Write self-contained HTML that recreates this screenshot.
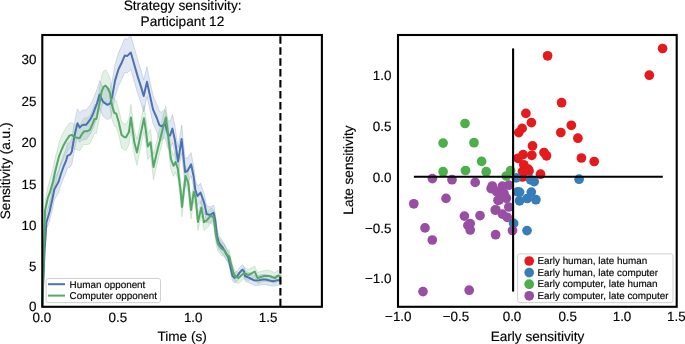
<!DOCTYPE html>
<html><head><meta charset="utf-8"><style>
html,body{margin:0;padding:0;background:#fff;width:685px;height:344px;overflow:hidden}
svg{display:block;will-change:transform}
text{font-family:"Liberation Sans", sans-serif;fill:#000;stroke:#000;stroke-width:0.15px;text-rendering:geometricPrecision}
</style></head><body>
<svg width="685" height="344" viewBox="0 0 685 344">
<polygon points="42.3,306.5 44.6,245.0 45.7,228.0 46.4,215.8 49.5,202.5 52.2,189.8 54.4,178.8 56.5,174.9 58.7,170.4 60.9,162.8 63.8,154.4 66.0,148.9 67.4,143.6 70.3,141.7 71.8,138.5 73.9,125.7 75.3,118.2 77.5,108.9 79.7,112.7 81.9,110.5 84.1,109.9 86.3,110.0 88.4,107.2 90.6,104.4 92.8,100.1 95.0,94.5 97.2,88.8 99.6,80.6 103.1,87.6 107.4,90.1 110.3,88.2 112.5,79.5 115.1,64.4 118.6,52.3 121.2,46.8 124.7,38.6 127.3,38.9 130.8,35.5 134.3,47.7 137.8,59.9 141.2,70.8 143.7,80.1 147.0,66.8 149.6,79.9 153.1,95.7 156.6,103.5 159.5,111.4 161.8,112.2 164.9,109.6 168.0,120.6 170.1,121.5 172.4,114.6 174.8,125.5 178.1,147.6 181.6,125.0 185.1,158.0 187.5,158.0 191.1,152.7 193.8,166.9 195.3,179.9 197.5,186.3 200.5,183.3 203.1,190.7 204.9,196.9 206.6,205.5 210.1,207.0 213.6,205.2 215.3,213.3 217.0,228.5 218.8,235.7 222.3,240.8 225.3,246.3 228.3,252.2 230.4,261.7 232.4,270.8 234.4,272.9 237.5,270.8 239.5,267.8 242.3,264.7 243.8,266.1 245.2,271.2 248.1,272.3 251.5,274.0 254.7,275.6 259.1,275.2 262.5,274.5 265.7,274.5 269.5,275.5 273.0,276.3 275.8,275.6 278.8,275.2 281.0,275.2 281.0,285.2 278.8,285.2 275.8,285.6 273.0,286.3 269.5,285.5 265.7,284.5 262.5,284.5 259.1,285.2 254.7,285.6 251.5,284.0 248.1,282.3 245.2,281.2 243.8,276.1 242.3,274.7 239.5,277.8 237.5,280.8 234.4,282.9 232.4,280.8 230.4,271.7 228.3,262.8 225.3,257.7 222.3,253.2 218.8,249.1 217.0,242.3 215.3,227.7 213.6,220.2 210.1,223.0 206.6,222.5 204.9,214.3 203.1,208.5 200.5,201.9 197.5,205.7 195.3,199.9 193.8,187.9 191.1,175.9 187.5,184.0 185.1,186.0 181.6,153.0 178.1,175.6 174.8,153.5 172.4,142.6 170.1,149.5 168.0,148.6 164.9,137.6 161.8,140.2 159.5,139.4 156.6,131.5 153.1,123.7 149.6,108.1 147.0,96.6 143.7,111.9 141.2,104.0 137.8,93.9 134.3,81.7 130.8,69.5 127.3,72.9 124.7,72.6 121.2,80.8 118.6,85.7 115.1,96.4 112.5,110.5 110.3,118.4 107.4,119.5 103.1,116.2 99.6,108.6 97.2,117.0 95.0,123.0 92.8,128.9 90.6,133.4 88.4,136.4 86.3,139.4 84.1,139.5 81.9,140.3 79.7,142.5 77.5,137.7 75.3,145.8 73.9,152.7 71.8,164.5 70.3,167.1 67.4,168.0 66.0,172.9 63.8,177.6 60.9,185.2 58.7,192.2 56.5,196.2 54.4,199.6 52.2,210.2 49.5,221.5 46.4,229.2 45.7,240.0 44.6,255.0 42.3,306.5" fill="#4c72b0" fill-opacity="0.17" stroke="#4c72b0" stroke-opacity="0.22" stroke-width="1"/>
<polygon points="42.3,306.5 45.0,203.0 47.8,187.2 50.0,179.2 52.9,168.7 55.1,158.3 57.3,149.4 59.2,141.9 61.5,136.2 63.7,131.6 66.6,126.9 69.5,122.9 71.7,122.5 74.6,125.0 77.5,125.5 79.7,125.5 81.9,121.4 84.1,118.2 87.0,117.9 89.9,116.0 92.8,109.2 94.5,104.6 96.4,104.3 97.9,96.9 99.3,89.5 101.6,76.4 103.5,71.3 105.5,69.8 108.0,73.4 110.0,78.5 111.8,90.8 114.4,99.9 116.2,100.5 118.7,109.0 121.6,122.0 124.5,124.2 126.0,124.2 128.9,119.0 130.9,104.5 134.4,129.8 137.0,139.4 140.5,121.9 144.0,105.3 145.8,117.0 147.8,133.5 150.5,129.2 153.5,154.3 157.0,139.7 160.5,126.0 163.1,115.8 165.8,106.0 167.7,119.8 169.2,133.9 170.9,148.1 173.6,155.2 175.5,151.6 177.9,158.8 180.5,180.0 182.0,197.2 185.5,166.4 188.3,173.7 191.0,200.9 193.8,183.1 195.5,188.2 198.0,213.4 201.3,199.2 204.0,214.2 207.5,211.9 210.9,207.7 213.6,210.5 216.2,229.8 217.9,237.0 221.4,241.7 224.5,244.0 226.3,248.2 229.3,250.7 231.4,260.0 233.4,267.3 235.5,271.3 238.5,272.4 241.6,269.7 244.5,267.5 248.1,269.6 251.3,268.0 254.7,266.0 257.6,272.6 260.8,271.5 264.2,270.4 269.3,270.4 272.0,271.5 274.8,272.6 278.1,270.0 281.0,271.5 281.0,282.5 278.1,281.0 274.8,283.6 272.0,282.5 269.3,281.4 264.2,281.4 260.8,282.5 257.6,283.6 254.7,277.0 251.3,279.0 248.1,280.6 244.5,278.5 241.6,280.7 238.5,283.4 235.5,282.3 233.4,278.3 231.4,271.2 229.3,262.3 226.3,260.6 224.5,256.8 221.4,255.3 217.9,251.2 216.2,244.4 213.6,225.3 210.9,222.9 207.5,227.5 204.0,230.4 201.3,215.8 198.0,230.6 195.5,205.8 193.8,200.9 191.0,219.1 188.3,192.3 185.5,185.6 182.0,216.8 180.5,200.0 177.9,179.2 175.5,172.4 173.6,176.4 170.9,169.9 169.2,156.1 167.7,142.2 165.8,128.8 163.1,139.2 160.5,149.8 157.0,164.3 153.5,179.7 150.5,155.1 147.8,159.5 145.8,143.0 144.0,131.3 140.5,147.9 137.0,165.4 134.4,155.8 130.9,130.5 128.9,145.0 126.0,150.2 124.5,150.2 121.6,148.0 118.7,135.0 116.2,126.5 114.4,126.3 111.8,118.8 110.0,107.5 108.0,103.6 105.5,101.4 103.5,102.7 101.6,107.0 99.3,119.3 97.9,126.3 96.4,133.5 94.5,133.2 92.8,137.4 89.9,143.6 87.0,144.7 84.1,144.4 81.9,147.0 79.7,150.7 77.5,150.1 74.6,149.2 71.7,147.3 69.5,148.3 66.6,153.1 63.7,158.6 61.5,163.8 59.2,169.7 57.3,176.8 55.1,185.3 52.9,195.3 50.0,205.2 47.8,208.8 45.0,219.0 42.3,306.5" fill="#55a868" fill-opacity="0.17" stroke="#55a868" stroke-opacity="0.22" stroke-width="1"/>
<polyline points="42.3,306.5 44.6,250.0 45.7,234.0 46.4,222.5 49.5,212.0 52.2,200.0 54.4,189.2 56.5,185.6 58.7,181.3 60.9,174.0 63.8,166.0 66.0,160.9 67.4,155.8 70.3,154.4 71.8,151.5 73.9,139.2 75.3,132.0 77.5,123.3 79.7,127.6 81.9,125.4 84.1,124.7 86.3,124.7 88.4,121.8 90.6,118.9 92.8,114.5 95.0,108.7 97.2,102.9 99.6,94.6 103.1,101.9 107.4,104.8 110.3,103.3 112.5,95.0 115.1,80.4 118.6,69.0 121.2,63.8 124.7,55.6 127.3,55.9 130.8,52.5 134.3,64.7 137.8,76.9 141.2,87.4 143.7,96.0 147.0,81.7 149.6,94.0 153.1,109.7 156.6,117.5 159.5,125.4 161.8,126.2 164.9,123.6 168.0,134.6 170.1,135.5 172.4,128.6 174.8,139.5 178.1,161.6 181.6,139.0 185.1,172.0 187.5,171.0 191.1,164.3 193.8,177.4 195.3,189.9 197.5,196.0 200.5,192.6 203.1,199.6 204.9,205.6 206.6,214.0 210.1,215.0 213.6,212.7 215.3,220.5 217.0,235.4 218.8,242.4 222.3,247.0 225.3,252.0 228.3,257.5 230.4,266.7 232.4,275.8 234.4,277.9 237.5,275.8 239.5,272.8 242.3,269.7 243.8,271.1 245.2,276.2 248.1,277.3 251.5,279.0 254.7,280.6 259.1,280.2 262.5,279.5 265.7,279.5 269.5,280.5 273.0,281.3 275.8,280.6 278.8,280.2 281.0,280.2" fill="none" stroke="#4c72b0" stroke-width="2" stroke-linejoin="round"/>
<polyline points="42.3,306.5 45.0,211.0 47.8,198.0 50.0,192.2 52.9,182.0 55.1,171.8 57.3,163.1 59.2,155.8 61.5,150.0 63.7,145.1 66.6,140.0 69.5,135.6 71.7,134.9 74.6,137.1 77.5,137.8 79.7,138.1 81.9,134.2 84.1,131.3 87.0,131.3 89.9,129.8 92.8,123.3 94.5,118.9 96.4,118.9 97.9,111.6 99.3,104.4 101.6,91.7 103.5,87.0 105.5,85.6 108.0,88.5 110.0,93.0 111.8,104.8 114.4,113.1 116.2,113.5 118.7,122.0 121.6,135.0 124.5,137.2 126.0,137.2 128.9,132.0 130.9,117.5 134.4,142.8 137.0,152.4 140.5,134.9 144.0,118.3 145.8,130.0 147.8,146.5 150.5,142.2 153.5,167.0 157.0,152.0 160.5,137.9 163.1,127.5 165.8,117.4 167.7,131.0 169.2,145.0 170.9,159.0 173.6,165.8 175.5,162.0 177.9,169.0 180.5,190.0 182.0,207.0 185.5,176.0 188.3,183.0 191.0,210.0 193.8,192.0 195.5,197.0 198.0,222.0 201.3,207.5 204.0,222.3 207.5,219.7 210.9,215.3 213.6,217.9 216.2,237.1 217.9,244.1 221.4,248.5 224.5,250.4 226.3,254.4 229.3,256.5 231.4,265.6 233.4,272.8 235.5,276.8 238.5,277.9 241.6,275.2 244.5,273.0 248.1,275.1 251.3,273.5 254.7,271.5 257.6,278.1 260.8,277.0 264.2,275.9 269.3,275.9 272.0,277.0 274.8,278.1 278.1,275.5 281.0,277.0" fill="none" stroke="#55a868" stroke-width="2" stroke-linejoin="round"/>
<line x1="280.4" y1="36.3" x2="280.4" y2="306.8" stroke="#000" stroke-width="2.1" stroke-dasharray="7.5 3.44"/>
<rect x="46.1" y="278.5" width="114.4" height="24.1" rx="2" ry="2" fill="#fff" fill-opacity="0.8" stroke="#cccccc" stroke-width="0.9"/>
<line x1="48" y1="284.2" x2="65" y2="284.2" stroke="#4c72b0" stroke-width="2"/>
<line x1="48" y1="295.6" x2="65" y2="295.6" stroke="#55a868" stroke-width="2"/>
<text x="69.6" y="287.7" font-size="9.9" text-anchor="start" >Human opponent</text>
<text x="69.6" y="299.1" font-size="9.9" text-anchor="start" >Computer opponent</text>
<rect x="42.3" y="35" width="279.6" height="271.8" fill="none" stroke="#000" stroke-width="2.1"/>
<text x="36.4" y="311.0972" font-size="13.4" text-anchor="end" >0</text>
<text x="36.4" y="270.5972" font-size="13.4" text-anchor="end" >5</text>
<text x="36.4" y="229.59720000000002" font-size="13.4" text-anchor="end" >10</text>
<text x="36.4" y="188.6972" font-size="13.4" text-anchor="end" >15</text>
<text x="36.4" y="147.1972" font-size="13.4" text-anchor="end" >20</text>
<text x="36.4" y="105.7972" font-size="13.4" text-anchor="end" >25</text>
<text x="36.4" y="64.4972" font-size="13.4" text-anchor="end" >30</text>
<text x="41.9" y="321.6" font-size="13.4" text-anchor="middle" >0.0</text>
<text x="117.9" y="321.6" font-size="13.4" text-anchor="middle" >0.5</text>
<text x="193.2" y="321.6" font-size="13.4" text-anchor="middle" >1.0</text>
<text x="268.1" y="321.6" font-size="13.4" text-anchor="middle" >1.5</text>
<text x="182.1" y="340.6" font-size="13.6" text-anchor="middle" >Time (s)</text>
<text x="182.6" y="9.8" font-size="13.7" text-anchor="middle" >Strategy sensitivity:</text>
<text x="182.4" y="25.6" font-size="13.7" text-anchor="middle" >Participant 12</text>
<text x="0" y="0" font-size="13.6" text-anchor="middle" transform="translate(10.1,170.9) rotate(-90)">Sensitivity (a.u.)</text>
<circle cx="547.6" cy="55.8" r="4.85" fill="#e41a1c"/><circle cx="662.6" cy="48.5" r="4.85" fill="#e41a1c"/><circle cx="649.3" cy="75.2" r="4.85" fill="#e41a1c"/><circle cx="561.6" cy="102.7" r="4.85" fill="#e41a1c"/><circle cx="525.9" cy="113.4" r="4.85" fill="#e41a1c"/><circle cx="531.4" cy="122.6" r="4.85" fill="#e41a1c"/><circle cx="522.1" cy="128.4" r="4.85" fill="#e41a1c"/><circle cx="518.8" cy="132.6" r="4.85" fill="#e41a1c"/><circle cx="571.3" cy="125.3" r="4.85" fill="#e41a1c"/><circle cx="560.8" cy="132.5" r="4.85" fill="#e41a1c"/><circle cx="577.9" cy="138.2" r="4.85" fill="#e41a1c"/><circle cx="532.5" cy="145.9" r="4.85" fill="#e41a1c"/><circle cx="544" cy="152.5" r="4.85" fill="#e41a1c"/><circle cx="546.5" cy="155.8" r="4.85" fill="#e41a1c"/><circle cx="581.4" cy="158" r="4.85" fill="#e41a1c"/><circle cx="594.2" cy="161.5" r="4.85" fill="#e41a1c"/><circle cx="523.1" cy="154.6" r="4.85" fill="#e41a1c"/><circle cx="518" cy="158.3" r="4.85" fill="#e41a1c"/><circle cx="531.8" cy="155.3" r="4.85" fill="#e41a1c"/><circle cx="523.8" cy="164.8" r="4.85" fill="#e41a1c"/><circle cx="528.2" cy="169.2" r="4.85" fill="#e41a1c"/><circle cx="522.5" cy="171.5" r="4.85" fill="#e41a1c"/><circle cx="540.5" cy="174.2" r="4.85" fill="#e41a1c"/><circle cx="529" cy="171" r="4.85" fill="#e41a1c"/><circle cx="522.5" cy="177" r="4.85" fill="#e41a1c"/>
<circle cx="516.2" cy="177.8" r="4.85" fill="#377eb8"/><circle cx="530.7" cy="179.9" r="4.85" fill="#377eb8"/><circle cx="534.2" cy="181.6" r="4.85" fill="#377eb8"/><circle cx="579.1" cy="179.2" r="4.85" fill="#377eb8"/><circle cx="519.6" cy="192.1" r="4.85" fill="#377eb8"/><circle cx="531.3" cy="192.1" r="4.85" fill="#377eb8"/><circle cx="519.6" cy="200.8" r="4.85" fill="#377eb8"/><circle cx="527.2" cy="198.5" r="4.85" fill="#377eb8"/><circle cx="535.9" cy="199.7" r="4.85" fill="#377eb8"/><circle cx="517.6" cy="191.9" r="4.85" fill="#377eb8"/><circle cx="513.6" cy="223.4" r="4.85" fill="#377eb8"/><circle cx="527" cy="230.6" r="4.85" fill="#377eb8"/>
<circle cx="465" cy="123.5" r="4.85" fill="#4daf4a"/><circle cx="443.1" cy="143.1" r="4.85" fill="#4daf4a"/><circle cx="474" cy="142.7" r="4.85" fill="#4daf4a"/><circle cx="481.6" cy="161.4" r="4.85" fill="#4daf4a"/><circle cx="443.1" cy="171.7" r="4.85" fill="#4daf4a"/><circle cx="465.5" cy="170.5" r="4.85" fill="#4daf4a"/><circle cx="486.2" cy="171.7" r="4.85" fill="#4daf4a"/><circle cx="510.6" cy="170.6" r="4.85" fill="#4daf4a"/><circle cx="506.3" cy="176" r="4.85" fill="#4daf4a"/>
<circle cx="432.4" cy="178.6" r="4.85" fill="#984ea3"/><circle cx="452" cy="179.7" r="4.85" fill="#984ea3"/><circle cx="475.2" cy="182.4" r="4.85" fill="#984ea3"/><circle cx="492.3" cy="186" r="4.85" fill="#984ea3"/><circle cx="491.1" cy="188.6" r="4.85" fill="#984ea3"/><circle cx="413.8" cy="203.8" r="4.85" fill="#984ea3"/><circle cx="446" cy="198.4" r="4.85" fill="#984ea3"/><circle cx="464.4" cy="216.1" r="4.85" fill="#984ea3"/><circle cx="480" cy="215.6" r="4.85" fill="#984ea3"/><circle cx="470.2" cy="223.6" r="4.85" fill="#984ea3"/><circle cx="467.9" cy="225.4" r="4.85" fill="#984ea3"/><circle cx="470.2" cy="230" r="4.85" fill="#984ea3"/><circle cx="425" cy="227.9" r="4.85" fill="#984ea3"/><circle cx="432.3" cy="240" r="4.85" fill="#984ea3"/><circle cx="495.6" cy="234.7" r="4.85" fill="#984ea3"/><circle cx="495.8" cy="209.8" r="4.85" fill="#984ea3"/><circle cx="498" cy="200.3" r="4.85" fill="#984ea3"/><circle cx="502.4" cy="186.2" r="4.85" fill="#984ea3"/><circle cx="508.8" cy="185.2" r="4.85" fill="#984ea3"/><circle cx="504" cy="193.4" r="4.85" fill="#984ea3"/><circle cx="499.2" cy="199.8" r="4.85" fill="#984ea3"/><circle cx="506.4" cy="198.2" r="4.85" fill="#984ea3"/><circle cx="500.5" cy="192.5" r="4.85" fill="#984ea3"/><circle cx="496.5" cy="191.5" r="4.85" fill="#984ea3"/><circle cx="495.2" cy="210.1" r="4.85" fill="#984ea3"/><circle cx="502.4" cy="214.1" r="4.85" fill="#984ea3"/><circle cx="507.2" cy="217.3" r="4.85" fill="#984ea3"/><circle cx="508.8" cy="207" r="4.85" fill="#984ea3"/><circle cx="512.5" cy="230.5" r="4.85" fill="#984ea3"/><circle cx="423" cy="291.6" r="4.85" fill="#984ea3"/><circle cx="469.2" cy="290.2" r="4.85" fill="#984ea3"/>
<line x1="413.9" y1="176.7" x2="662.8" y2="176.7" stroke="#000" stroke-width="2.1"/>
<line x1="513.1" y1="48.4" x2="513.1" y2="291.6" stroke="#000" stroke-width="2.1"/>
<rect x="517.6" y="253.9" width="155.4" height="48.7" rx="2" ry="2" fill="#fff" fill-opacity="0.8" stroke="#cccccc" stroke-width="0.9"/>
<circle cx="529.2" cy="261.0" r="4.85" fill="#e41a1c"/>
<text x="537.4" y="264.2" font-size="9.9" text-anchor="start" >Early human, late human</text>
<circle cx="529.2" cy="272.6" r="4.85" fill="#377eb8"/>
<text x="537.4" y="275.8" font-size="9.9" text-anchor="start" >Early human, late computer</text>
<circle cx="529.2" cy="284.2" r="4.85" fill="#4daf4a"/>
<text x="537.4" y="287.4" font-size="9.9" text-anchor="start" >Early computer, late human</text>
<circle cx="529.2" cy="295.8" r="4.85" fill="#984ea3"/>
<text x="537.4" y="299.0" font-size="9.9" text-anchor="start" >Early computer, late computer</text>
<rect x="398" y="35" width="278.7" height="271.8" fill="none" stroke="#000" stroke-width="2.1"/>
<text x="391.4" y="79.69720000000001" font-size="13.4" text-anchor="end" >1.0</text>
<text x="391.4" y="130.8472" font-size="13.4" text-anchor="end" >0.5</text>
<text x="391.4" y="182.1972" font-size="13.4" text-anchor="end" >0.0</text>
<text x="391.4" y="232.6972" font-size="13.4" text-anchor="end" >−0.5</text>
<text x="391.4" y="283.49719999999996" font-size="13.4" text-anchor="end" >−1.0</text>
<text x="398.3" y="321.3" font-size="13.4" text-anchor="middle" >−1.0</text>
<text x="455.9" y="321.3" font-size="13.4" text-anchor="middle" >−0.5</text>
<text x="512.0" y="321.3" font-size="13.4" text-anchor="middle" >0.0</text>
<text x="567.7" y="321.3" font-size="13.4" text-anchor="middle" >0.5</text>
<text x="622.0" y="321.3" font-size="13.4" text-anchor="middle" >1.0</text>
<text x="676.3" y="321.3" font-size="13.4" text-anchor="middle" >1.5</text>
<text x="537.5" y="340.7" font-size="13.6" text-anchor="middle" >Early sensitivity</text>
<text x="0" y="0" font-size="13.6" text-anchor="middle" transform="translate(352.6,170.1) rotate(-90)">Late sensitivity</text>
</svg>
</body></html>
